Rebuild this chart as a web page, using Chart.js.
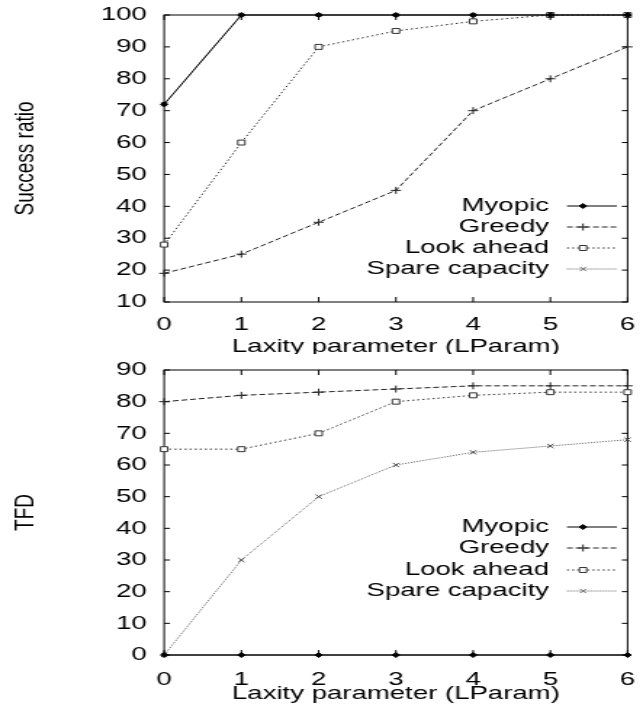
<!DOCTYPE html>
<html>
<head>
<meta charset="utf-8">
<script src="https://cdn.jsdelivr.net/npm/chart.js@4/dist/chart.umd.min.js"></script>
<style>
  body { margin: 0; background: #fff; }
  canvas { display: block; }
</style>
</head>
<body>
<canvas id="success-chart" width="443" height="354" style="width:643px;height:354px"></canvas>
<canvas id="tfd-chart" width="443" height="354" style="width:643px;height:354px"></canvas>
<script>
const laxity = ["0", "1", "2", "3", "4", "5", "6"];
const seriesNames = ["Myopic", "Greedy", "Look ahead", "Spare capacity"];

const myopicSuccess = [72, 100, 100, 100, 100, 100, 100];
const greedySuccess = [19, 25, 35, 45, 70, 80, 90];
const lookAheadSuccess = [28, 60, 90, 95, 98, 100, 100];
const spareSuccess = [72, 100, 100, 100, 100, 100, 100];

const myopicTfd = [0, 0, 0, 0, 0, 0, 0];
const greedyTfd = [80, 82, 83, 84, 85, 85, 85];
const lookAheadTfd = [65, 65, 70, 80, 82, 83, 83];
const spareTfd = [0, 30, 50, 60, 64, 66, 68];

const FONT = "'Liberation Sans', Arial, sans-serif";

// line + marker look for each series (gnuplot style)
const seriesStyles = [
  { color: "#000", dash: [], pointStyle: "rectRot", radius: 2.5, fill: "#000" },
  { color: "#222", dash: [4, 2], pointStyle: "cross", radius: 3.5, fill: "transparent" },
  { color: "#333", dash: [1.5, 2], pointStyle: "rect", radius: 3.5, fill: "#fff" },
  { color: "#666", dash: [1, 1], pointStyle: "crossRot", radius: 3, fill: "transparent" },
];

const framePlugin = {
  id: "frame",
  beforeDatasetsDraw(chart) {
    const { ctx, chartArea: a } = chart;
    const x = chart.scales.x;
    const y = chart.scales.y;
    ctx.save();
    ctx.strokeStyle = "#000";
    ctx.lineWidth = 1;
    ctx.beginPath();
    x.ticks.forEach((t, i) => {
      const px = x.getPixelForTick(i);
      ctx.moveTo(px, a.bottom);
      ctx.lineTo(px, a.bottom - 5);
      ctx.moveTo(px, a.top);
      ctx.lineTo(px, a.top + 5);
    });
    y.ticks.forEach((t) => {
      const py = y.getPixelForValue(t.value);
      ctx.moveTo(a.left, py);
      ctx.lineTo(a.left + 4, py);
      ctx.moveTo(a.right, py);
      ctx.lineTo(a.right - 4, py);
    });
    ctx.stroke();
    ctx.strokeRect(a.left, a.top, a.right - a.left, a.bottom - a.top);
    ctx.restore();
  },
  afterDatasetsDraw(chart, args, opts) {
    const { ctx } = chart;
    const rows = opts.rows || [];
    ctx.save();
    ctx.font = "19px " + FONT;
    ctx.textAlign = "right";
    ctx.textBaseline = "middle";
    chart.data.datasets.forEach((ds, i) => {
      const ry = rows[i];
      const st = seriesStyles[i];
      ctx.fillStyle = "#000";
      ctx.fillText(ds.label, opts.textRight, ry);
      ctx.strokeStyle = st.color;
      ctx.lineWidth = 1;
      ctx.setLineDash(st.dash);
      ctx.beginPath();
      ctx.moveTo(opts.lineFrom, ry);
      ctx.lineTo(opts.lineTo, ry);
      ctx.stroke();
      ctx.setLineDash([]);
      ctx.fillStyle = st.fill;
      Chart.helpers.drawPoint(ctx, { pointStyle: st.pointStyle, radius: st.radius, rotation: 0, borderWidth: 1 }, opts.marker, ry);
    });
    ctx.restore();
  },
};

const makeDatasets = (values) =>
  values.map((data, i) => {
    const st = seriesStyles[i];
    return {
      label: seriesNames[i],
      data: data,
      borderColor: st.color,
      borderWidth: 1,
      borderDash: st.dash,
      pointStyle: st.pointStyle,
      pointRadius: st.radius,
      pointBorderColor: st.color === "#666" ? "#444" : st.color,
      pointBackgroundColor: st.fill,
      pointBorderWidth: 1,
      tension: 0,
      clip: false,
    };
  });

const makeChart = (canvasId, yTitle, yMin, yMax, values, layoutTop, xHeight, tickPad, xTitlePad, rows) => {
  return new Chart(document.getElementById(canvasId), {
    type: "line",
    data: { labels: laxity, datasets: makeDatasets(values) },
    plugins: [framePlugin],
    options: {
      responsive: false,
      animation: false,
      devicePixelRatio: 1,
      layout: { padding: { top: layoutTop, right: 10.6, left: 0, bottom: 0 } },
      plugins: {
        legend: { display: false },
        tooltip: { enabled: false },
        frame: { rows: rows, textRight: 378.2, lineFrom: 390.6, lineTo: 425, marker: 401.7 },
      },
      scales: {
        x: {
          type: "category",
          offset: false,
          grid: { display: false, drawTicks: false },
          border: { display: false },
          ticks: { color: "#000", font: { family: FONT, size: 19 }, padding: tickPad, maxRotation: 0 },
          title: {
            display: true,
            text: "Laxity parameter (LParam)",
            color: "#000",
            font: { family: FONT, size: 19 },
            padding: { top: 0, bottom: xTitlePad },
          },
          afterFit: (s) => {
            s.height = xHeight;
            s.paddingLeft = 0;
            s.paddingRight = 0;
          },
        },
        y: {
          min: yMin,
          max: yMax,
          grid: { display: false, drawTicks: false },
          border: { display: false },
          ticks: { stepSize: 10, color: "#000", font: { family: FONT, size: 19 }, padding: 12 },
          title: {
            display: true,
            text: yTitle,
            color: "#000",
            font: { family: FONT, size: 19 },
            padding: { top: 6, bottom: 0 },
          },
          afterFit: (s) => {
            s.width = 113.1;
            s.paddingTop = 0;
            s.paddingBottom = 0;
          },
        },
      },
    },
  });
};

makeChart(
  "success-chart",
  "Success ratio",
  10,
  100,
  [myopicSuccess, greedySuccess, lookAheadSuccess, spareSuccess],
  15,
  52,
  11,
  -4,
  [206, 227, 248, 269]
);

makeChart(
  "tfd-chart",
  "TFD",
  0,
  90,
  [myopicTfd, greedyTfd, lookAheadTfd, spareTfd],
  16,
  53,
  13,
  2.6,
  [173, 194, 216, 237]
);
</script>
</body>
</html>
